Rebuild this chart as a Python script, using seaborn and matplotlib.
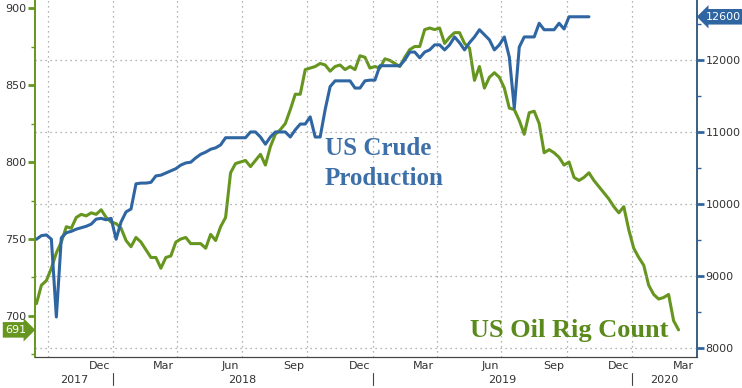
import pandas as pd
import numpy as np
import matplotlib
matplotlib.use("Agg")
import matplotlib.pyplot as plt
import matplotlib.dates as mdates
import seaborn as sns

# Weekly US oil rig count (left axis), Fridays from mid-Sep 2017
rig_start = "2017-09-15"
rig_count = [708, 720, 723, 731, 741, 748, 758, 757, 764, 766,
             765, 767, 766, 769, 764, 761, 760, 757, 749, 745,
             751, 748, 743, 738, 738, 731, 738, 739, 748, 750,
             751, 747, 747, 747, 744, 753, 749, 758, 764, 793,
             799, 800, 801, 797, 801, 805, 798, 810, 818, 821,
             825, 834, 844, 844, 860, 861, 862, 864, 863, 859,
             862, 863, 860, 862, 860, 869, 868, 861, 862, 861,
             867, 866, 864, 862, 868, 873, 875, 875, 886, 887,
             886, 887, 877, 881, 884, 884, 877, 874, 853, 862,
             848, 855, 858, 855, 848, 835, 834, 827, 818, 832,
             833, 825, 806, 808, 806, 803, 798, 800, 790, 788,
             790, 793, 788, 784, 780, 776, 771, 767, 771, 756,
             744, 738, 733, 720, 714, 711, 712, 714, 697, 691]

# Weekly US crude production, thousand b/d (right axis)
prod_start = "2017-09-15"
production = [9510, 9560, 9570, 9510, 8430, 9530, 9600, 9620, 9650, 9670,
              9690, 9720, 9790, 9800, 9780, 9800, 9510, 9750, 9890, 9930,
              10280, 10290, 10290, 10300, 10390, 10400, 10430, 10460, 10490, 10540,
              10570, 10580, 10640, 10690, 10720, 10760, 10780, 10820, 10920, 10920,
              10920, 10920, 10920, 11000, 11000, 10930, 10830, 10930, 11000, 11000,
              11000, 10930, 11030, 11110, 11110, 11210, 10930, 10930, 11310, 11630,
              11710, 11710, 11710, 11710, 11610, 11610, 11710, 11720, 11720, 11920,
              11920, 11920, 11920, 11920, 12000, 12110, 12110, 12030, 12110, 12140,
              12210, 12210, 12140, 12210, 12320, 12240, 12140, 12240, 12320, 12420,
              12350, 12280, 12140, 12210, 12320, 12040, 11330, 12180, 12320, 12320,
              12320, 12510, 12420, 12420, 12420, 12510, 12430, 12600, 12600, 12600,
              12600, 12600]

rig_label = "691"
prod_label = "12600"
month_names = ["Dec", "Mar", "Jun", "Sep"]
years = ["2017", "2018", "2019", "2020"]

GREEN = "#66961f"
BLUE = "#2f66a2"
GRID = "#9a9a9a"

rig_df = pd.DataFrame({"date": pd.date_range(rig_start, periods=len(rig_count), freq="W-FRI"),
                       "value": rig_count})
prod_df = pd.DataFrame({"date": pd.date_range(prod_start, periods=len(production), freq="W-FRI"),
                        "value": production})

sns.set_style("white")
plt.rcParams["font.family"] = ["DejaVu Sans"]

fig = plt.figure(figsize=(7.42, 3.88), dpi=100)
ax = fig.add_axes([0.0472, 0.08, 0.8922, 0.92])
ax2 = ax.twinx()

sns.lineplot(data=rig_df, x="date", y="value", ax=ax, color=GREEN, lw=2.2)
sns.lineplot(data=prod_df, x="date", y="value", ax=ax2, color=BLUE, lw=2.2)

ax.set_xlim(mdates.date2num(pd.Timestamp("2017-09-13")), mdates.date2num(pd.Timestamp("2020-04-01")))
ax.set_ylim(673.4, 905.2)
ax2.set_ylim(7875, 12833)

# x axis: quarter boundaries as major ticks, months as minor
ax.xaxis.set_major_locator(mdates.MonthLocator(bymonth=[1, 4, 7, 10]))
ax.xaxis.set_minor_locator(mdates.MonthLocator())
ax.xaxis.set_major_formatter(plt.NullFormatter())
ax.tick_params(axis="x", which="major", direction="out", length=5, width=1, color="#444444")
ax.tick_params(axis="x", which="minor", direction="out", length=3, width=1, color="#444444")
ax.set_xlabel("")
ax.set_ylabel("")
ax2.set_ylabel("")

# left axis
ax.set_yticks([700, 750, 800, 850, 900])
ax.set_yticks(np.arange(675, 905, 25), minor=True)
ax.tick_params(axis="y", which="major", direction="out", length=5, width=2, color=GREEN,
               labelsize=8, labelcolor="#333333", pad=1)
ax.tick_params(axis="y", which="minor", direction="out", length=3, width=1, color=GREEN)

# right axis
ax2.set_yticks([8000, 9000, 10000, 11000, 12000])
ax2.set_yticks(np.arange(8500, 12800, 500), minor=True)
ax2.tick_params(axis="y", which="major", direction="out", length=5, width=2, color=BLUE,
                labelsize=8, labelcolor="#333333", pad=1)
ax2.tick_params(axis="y", which="minor", direction="out", length=3, width=1, color=BLUE)

for a in (ax, ax2):
    a.spines["top"].set_visible(False)
    a.spines["left"].set_color(GREEN)
    a.spines["right"].set_color("#3a5f80")
    a.spines["bottom"].set_color("#444444")
    a.spines["left"].set_linewidth(1.2)
    a.spines["right"].set_linewidth(1.2)

# dotted grid
ax.grid(False)
ax2.grid(False)
for d in pd.date_range("2017-10-01", "2020-04-01", freq="QS-JAN"):
    ax.axvline(mdates.date2num(d), color=GRID, lw=0.9, ls=(0, (1, 3)), zorder=0)
for v in [8000, 9000, 10000, 11000, 12000]:
    ax2.axhline(v, color=GRID, lw=0.9, ls=(0, (1, 3)), zorder=0)

# month and year labels under the axis
trans = ax.get_xaxis_transform()
q_ends = pd.date_range("2018-01-01", "2020-04-01", freq="QS-JAN")
for i, d in enumerate(q_ends):
    ax.annotate(month_names[i % 4], xy=(mdates.date2num(d), 0), xycoords=trans, xytext=(-2, -3),
                textcoords="offset points", ha="right", va="top", fontsize=8, color="#333333")
year_mid = ["2017-11-07", "2018-07-02", "2019-07-02", "2020-02-15"]
for lbl, d in zip(years, year_mid):
    ax.annotate(lbl, xy=(mdates.date2num(pd.Timestamp(d)), 0), xycoords=trans, xytext=(0, -13),
                textcoords="offset points", ha="center", va="top", fontsize=8, color="#333333")
for d in pd.date_range("2018-01-01", "2020-01-01", freq="YS"):
    xd = mdates.date2num(d)
    ax.plot([xd, xd], [-0.045, -0.078], transform=trans, color="#444444", lw=0.8, clip_on=False)

# last value tags
ax.annotate(rig_label, xy=(0, rig_count[-1]), xycoords=("axes fraction", "data"),
            xytext=(-6, 0), textcoords="offset points", ha="right", va="center",
            fontsize=8, color="white",
            bbox=dict(boxstyle="rarrow,pad=0.25", fc=GREEN, ec="none"))
ax2.annotate(prod_label, xy=(1, production[-1]), xycoords=("axes fraction", "data"),
             xytext=(6, 0), textcoords="offset points", ha="left", va="center",
             fontsize=8, color="white",
             bbox=dict(boxstyle="larrow,pad=0.25", fc=BLUE, ec="none"))

# series names
fig.text(0.438, 0.600, "US Crude", family="Liberation Serif", weight="bold",
         fontsize=18, color="#3d6fa8", va="baseline")
fig.text(0.438, 0.523, "Production", family="Liberation Serif", weight="bold",
         fontsize=18, color="#3d6fa8", va="baseline")
fig.text(0.633, 0.131, "US Oil Rig Count", family="Liberation Serif", weight="bold",
         fontsize=19, color="#5b8a1c", va="baseline")

fig.savefig("out.png", dpi=100)
